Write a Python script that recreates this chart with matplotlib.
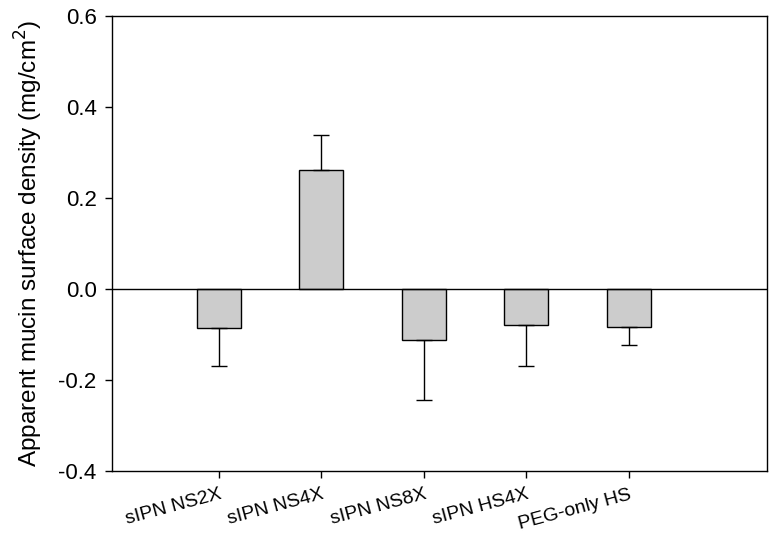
import numpy as np
import matplotlib.pyplot as plt

plt.rcParams['font.family'] = ['Liberation Sans', 'DejaVu Sans']

# data
groups = ['sIPN NS2X', 'sIPN NS4X', 'sIPN NS8X', 'sIPN HS4X', 'PEG-only HS']
density = [-0.086, 0.262, -0.112, -0.079, -0.084]
sd = [0.083, 0.077, 0.132, 0.090, 0.039]

pos = np.arange(1, len(groups) + 1)
# error bars drawn only away from zero
lower = [e if v < 0 else 0 for v, e in zip(density, sd)]
upper = [e if v >= 0 else 0 for v, e in zip(density, sd)]

fig = plt.figure(figsize=(7.8, 5.38), dpi=100)
ax = fig.add_axes([112/780, 1 - 471/538, (767-112)/780, (471-16)/538])

ax.bar(pos, density, width=0.43, color='#cccccc', edgecolor='black', linewidth=1, zorder=2)
ax.errorbar(pos, density, yerr=[lower, upper], fmt='none', ecolor='black',
            elinewidth=1, capsize=5.5, capthick=1, zorder=3)
ax.axhline(0, color='black', linewidth=1, zorder=4)

ax.set_xlim(-0.04, 6.35)
ax.set_ylim(-0.4, 0.6)
ax.set_yticks(np.arange(-0.4, 0.61, 0.2))
ax.set_yticklabels(['%.1f' % t for t in np.arange(-0.4, 0.61, 0.2)], fontsize=16)
ax.set_xticks(pos)
ax.set_xticklabels(groups, fontsize=14, rotation=15, ha='right', rotation_mode='anchor')
ax.tick_params(direction='out', length=5, width=1)
ax.tick_params(axis='y', pad=6)
ax.tick_params(axis='x', pad=6)
ax.set_ylabel('Apparent mucin surface density (mg/cm$^2$)', fontsize=17.5, labelpad=10)
for s in ax.spines.values():
    s.set_linewidth(1)

fig.savefig('out.png', dpi=100)
